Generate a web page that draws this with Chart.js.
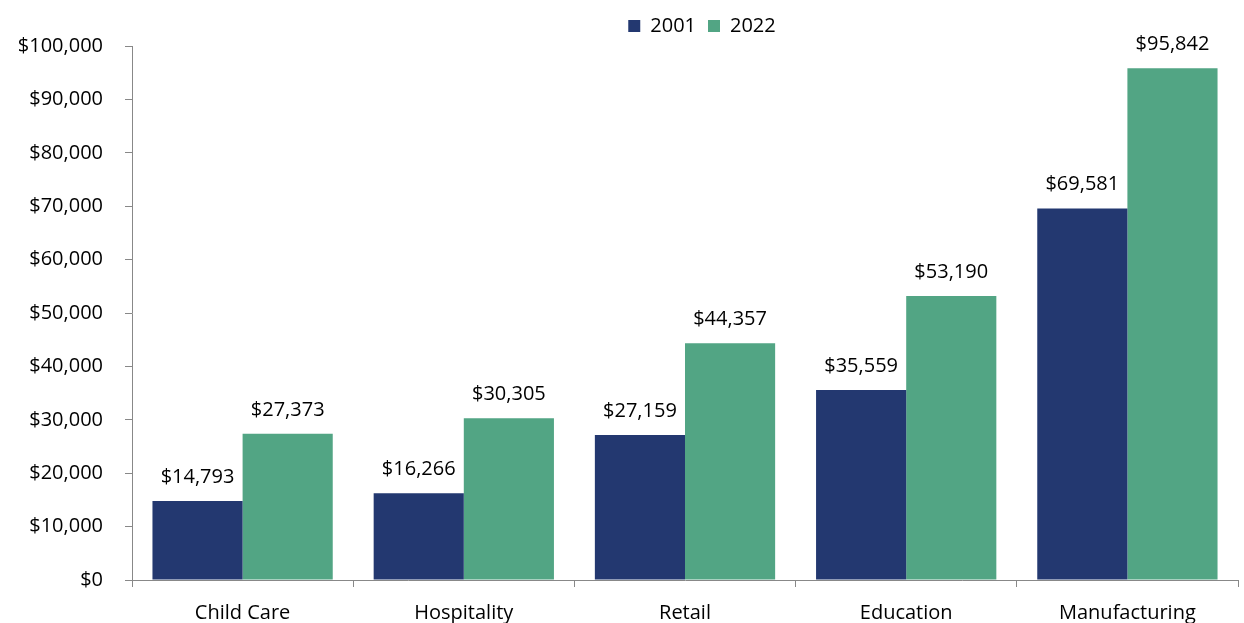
<!DOCTYPE html>
<html>
<head>
<meta charset="utf-8">
<script src="https://cdn.jsdelivr.net/npm/chart.js@4/dist/chart.umd.min.js"></script>
<style>
  html, body { margin: 0; padding: 0; background: #fff; }
  #wrap { width: 1244px; height: 623px; }
</style>
</head>
<body>
<div id="wrap"><canvas id="grafico" width="1244" height="623"></canvas></div>
<script>
// datos
const categorias = ['Child Care', 'Hospitality', 'Retail', 'Education', 'Manufacturing'];
const serie2001 = [14793, 16266, 27159, 35559, 69581];
const serie2022 = [27373, 30305, 44357, 53190, 95842];
const nombresSeries = ['2001', '2022'];

const fuente = "'Open Sans', sans-serif";
const dinero = v => '$' + Number(v).toLocaleString('en-US');

// etiquetas encima de cada barra
const etiquetas = {
    id: 'etiquetas',
    afterDatasetsDraw(chart) {
        const ctx = chart.ctx;
        ctx.save();
        ctx.font = '20px ' + fuente;
        ctx.fillStyle = '#000';
        ctx.textAlign = 'center';
        ctx.textBaseline = 'middle';
        chart.data.datasets.forEach((ds, i) => {
            chart.getDatasetMeta(i).data.forEach((bar, j) => {
                ctx.fillText(dinero(ds.data[j]), bar.x, bar.y - 24);
            });
        });
        ctx.restore();
    }
};

// la leyenda va un poco a la derecha, como en el original
const moverLeyenda = {
    id: 'moverLeyenda',
    afterLayout(chart) {
        const l = chart.legend;
        const d = 83;
        l.left += d;
        l.right += d;
        l.legendHitBoxes.forEach(b => { b.left += d; });
    }
};

new Chart(document.getElementById('grafico'), {
    type: 'bar',
    data: {
        labels: categorias,
        datasets: [{
            label: nombresSeries[0],
            data: serie2001,
            backgroundColor: '#233870',
            categoryPercentage: 0.815,
            barPercentage: 1
        }, {
            label: nombresSeries[1],
            data: serie2022,
            backgroundColor: '#52A584',
            categoryPercentage: 0.815,
            barPercentage: 1
        }]
    },
    options: {
        responsive: false,
        animation: false,
        layout: { padding: { left: 0, right: 6, top: 4, bottom: 0 } },
        plugins: {
            legend: {
                display: true,
                position: 'top',
                labels: {
                    boxWidth: 12,
                    boxHeight: 12,
                    padding: 12,
                    color: '#000',
                    font: { size: 20, family: fuente }
                }
            },
            tooltip: { enabled: false }
        },
        scales: {
            y: {
                min: 0,
                max: 100000,
                ticks: {
                    stepSize: 10000,
                    color: '#000',
                    padding: 22,
                    font: { size: 20, family: fuente },
                    callback: v => dinero(v)
                },
                grid: {
                    drawOnChartArea: false,
                    drawTicks: true,
                    tickLength: 7,
                    color: '#888'
                },
                border: { display: true, color: '#888' },
                afterFit(axis) { axis.width = 132; }
            },
            x: {
                ticks: {
                    color: '#000',
                    padding: 14,
                    font: { size: 20, family: fuente }
                },
                grid: {
                    offset: true,
                    drawOnChartArea: false,
                    drawTicks: true,
                    tickLength: 7,
                    color: '#888'
                },
                border: { display: true, color: '#888' },
                afterFit(axis) { axis.height = 43; }
            }
        }
    },
    plugins: [etiquetas, moverLeyenda]
});
</script>
</body>
</html>
